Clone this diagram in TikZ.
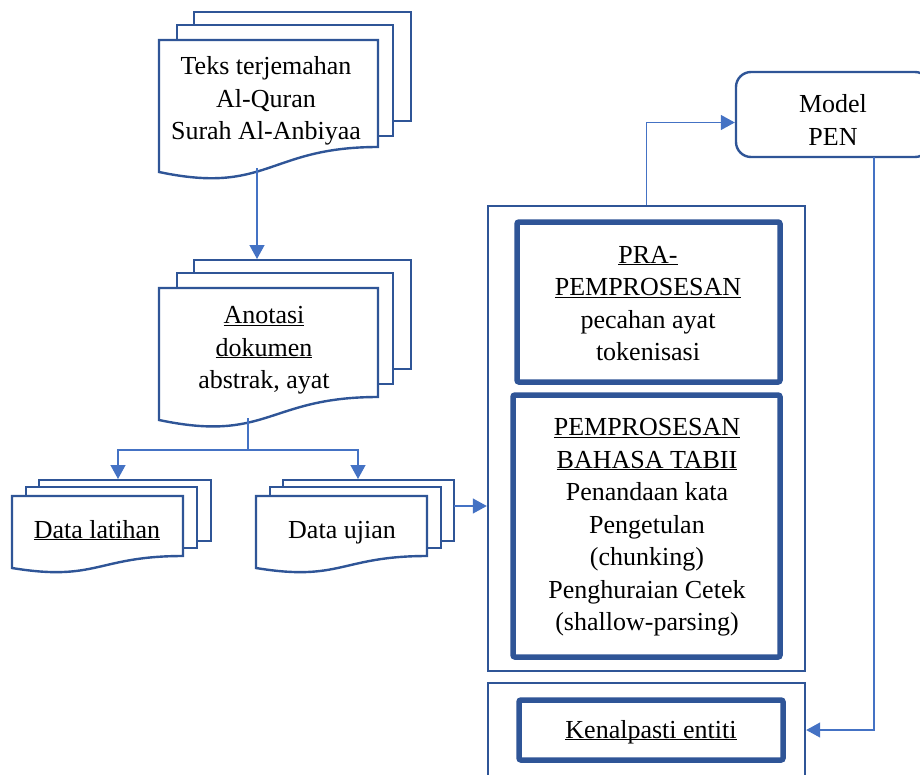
\documentclass[tikz,border=0pt]{standalone}
\usepackage{fontspec}
\setmainfont{Liberation Serif}
\usepackage{xcolor}
\usetikzlibrary{arrows.meta, positioning}
\definecolor{garis}{HTML}{2F5597}
\definecolor{panah}{HTML}{4472C4}
\newcommand{\garisbawah}[1]{\underline{\smash{#1}}}

\begin{document}
\begin{tikzpicture}[x=1pt, y=-1pt,
    doc/.style={draw=garis, line width=2.4pt, fill=white},
    kotak/.style={draw=garis, line width=2.4pt},
    tebal/.style={draw=garis, line width=5.5pt, rounded corners=2pt},
    tulis/.style={align=center, font=\fontsize{26}{32.5}\selectfont, inner sep=0pt},
    sambung/.style={draw=panah, line width=1.3pt, -{Triangle[width=15pt,length=14pt]}},
    talian/.style={draw=panah, line width=1.3pt}]
  \useasboundingbox (0,0) rectangle (920,774);

  % teks terjemahan
  \draw[doc] (194,12) rectangle (411,121);
  \draw[doc] (177,25) rectangle (393,136);
  \draw[doc] (159,40) -- (378,40) -- (378,147) .. controls (268,147) and (268,195) .. (159,172) -- cycle;
  \node[tulis] (teks) at (266,101) {Teks terjemahan\\Al-Quran\\Surah Al-Anbiyaa};
  \coordinate (teksbot) at (257,168);

  % anotasi
  \draw[doc] (194,260) rectangle (411,369);
  \draw[doc] (177,273) rectangle (393,384);
  \draw[doc] (159,288) -- (378,288) -- (378,397) .. controls (268,397) and (268,443) .. (159,420) -- cycle;
  \node[tulis] (anotasi) at (264,359) {\garisbawah{Anotasi}\\\garisbawah{dokumen}\\abstrak, ayat};
  \coordinate (anotasitop) at (257,259);
  \coordinate (anotasibot) at (248,418);

  % data latihan / ujian
  \draw[doc] (39,480) rectangle (211,541);
  \draw[doc] (26,487) rectangle (197,548);
  \draw[doc] (12,496) -- (183,496) -- (183,556) .. controls (97,556) and (97,582) .. (12,568) -- cycle;
  \node[tulis, anchor=base] (latihan) at (97,538) {\garisbawah{Data latihan}};

  \draw[doc] (283,480) rectangle (454,541);
  \draw[doc] (270,487) rectangle (441,548);
  \draw[doc] (256,496) -- (427,496) -- (427,556) .. controls (341,556) and (341,582) .. (256,568) -- cycle;
  \node[tulis, anchor=base] (ujian) at (342,538) {Data ujian};
  \coordinate (ujiankanan) at (454,506);

  \coordinate (cabang) at (248,450);
  \coordinate (latihantop) at (118,479);
  \coordinate (ujiantop) at (358,479);

  % pemprosesan
  \node[kotak, minimum width=317pt, minimum height=465pt] (proses) at (646.5,438.5) {};
  \node[tebal, minimum width=263pt, minimum height=160pt] (pra) at (648.5,302) {};
  \node[tulis] (pratulis) at (648,312)
    {\garisbawah{PRA-}\\\garisbawah{PEMPROSESAN}\\pecahan ayat\\tokenisasi};
  \node[tebal, minimum width=267pt, minimum height=262pt] (nlp) at (646.5,526) {};
  \node[tulis] (nlptulis) at (647,536)
    {\garisbawah{PEMPROSESAN}\\\garisbawah{BAHASA TABII}\\Penandaan kata\\Pengetulan\\(chunking)\\Penghuraian Cetek\\(shallow-parsing)};

  \node[kotak, rounded corners=15pt, minimum width=194pt, minimum height=85pt] (model) at (833,114.5) {};
  \node[tulis] (modeltulis) at (833,120) {Model\\PEN};
  \coordinate (modelbot) at (874,157);

  \node[kotak, minimum width=317pt, minimum height=100pt] (hasil) at (646.5,733) {};
  \node[tebal, minimum width=264pt, minimum height=60pt] (kenal) at (651,730) {};
  \node[tulis, anchor=base] (kenaltulis) at (651,738) {\garisbawah{Kenalpasti entiti}};

  % sambungan
  \draw[sambung] (teksbot) -- (anotasitop);
  \draw[talian] (anotasibot) -- (cabang);
  \draw[sambung] (cabang) -| (latihantop);
  \draw[sambung] (cabang) -| (ujiantop);
  \draw[sambung] (ujiankanan) -- (ujiankanan -| proses.west);
  \draw[sambung] (proses.north) |- ([yshift=-8pt]model.west);
  \draw[sambung] (modelbot) |- ([yshift=3pt]hasil.east);
\end{tikzpicture}
\end{document}
